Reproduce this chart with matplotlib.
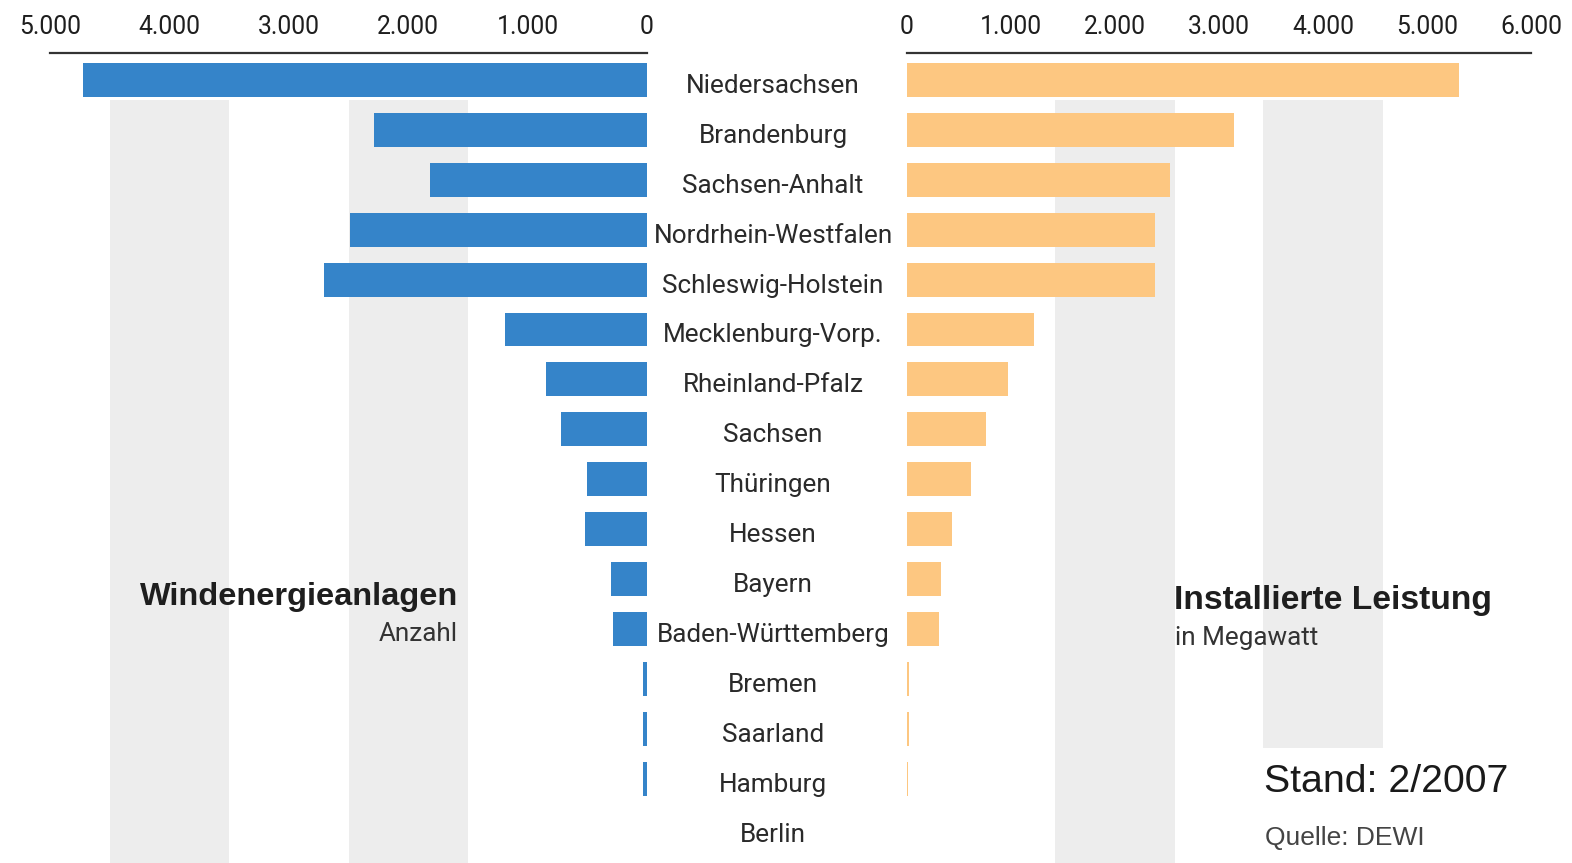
import matplotlib
matplotlib.use('Agg')
import matplotlib.pyplot as plt
from matplotlib import font_manager
from matplotlib.transforms import blended_transform_factory

# Windenergie in Deutschland nach Bundesland (Stand 2/2007, Quelle DEWI)
states = ['Niedersachsen', 'Brandenburg', 'Sachsen-Anhalt', 'Nordrhein-Westfalen',
          'Schleswig-Holstein', 'Mecklenburg-Vorp.', 'Rheinland-Pfalz', 'Sachsen',
          'Thüringen', 'Hessen', 'Bayern', 'Baden-Württemberg', 'Bremen',
          'Saarland', 'Hamburg', 'Berlin']
turbines = [4720, 2290, 1820, 2490, 2705, 1190, 847, 721, 503, 520, 302, 285,
            30, 30, 30, 0]
capacity_mw = [5310, 3140, 2530, 2385, 2385, 1225, 975, 755, 612, 430, 325, 306,
               20, 15, 8, 0]
left_ticks = [5000, 4000, 3000, 2000, 1000, 0]
right_ticks = [0, 1000, 2000, 3000, 4000, 5000, 6000]

BLUE = '#3584c9'
ORANGE = '#fdc781'
BAND = '#ededed'

installed = {f.name for f in font_manager.fontManager.ttflist}
NARROW = 'Liberation Sans Narrow' if 'Liberation Sans Narrow' in installed else 'Roboto'
label_size = 21.5 if NARROW == 'Liberation Sans Narrow' else 18.8


def fmt(v):
    return f'{v:,}'.replace(',', '.')


fig = plt.figure(figsize=(15.72, 8.63), dpi=100)
W, H = 1572, 863

ax_l = fig.add_axes([50 / W, 0, 597 / W, 810 / H])
ax_r = fig.add_axes([907 / W, 0, 624 / W, 810 / H])

rows = list(range(len(states)))
for ax in (ax_l, ax_r):
    ax.set_ylim(15.69, -0.54)
    for side in ('left', 'right', 'bottom'):
        ax.spines[side].set_visible(False)
    ax.spines['top'].set_color('#333333')
    ax.spines['top'].set_linewidth(1.6)
    ax.set_yticks([])
    ax.xaxis.tick_top()
    ax.tick_params(axis='x', length=0, pad=10, labelsize=label_size - 1,
                   colors='#1e1e1e')

# grey background columns behind the 2.000 and 4.000 marks
for c in (2000, 4000):
    ax_l.axvspan(c - 500, c + 500, ymin=0, ymax=0.942, color=BAND, lw=0, zorder=0)
ax_r.axvspan(2000 - 575, 2000 + 575, ymin=0, ymax=0.942, color=BAND, lw=0, zorder=0)
ax_r.axvspan(4000 - 575, 4000 + 575, ymin=0.142, ymax=0.942, color=BAND, lw=0, zorder=0)

ax_l.barh(rows, turbines, height=0.68, color=BLUE, zorder=2)
ax_r.barh(rows, capacity_mw, height=0.68, color=ORANGE, zorder=2)

ax_l.set_xlim(5000, 0)
ax_r.set_xlim(0, 6000)
ax_l.set_xticks(left_ticks)
ax_l.set_xticklabels([fmt(v) for v in left_ticks], family=NARROW)
ax_r.set_xticks(right_ticks)
ax_r.set_xticklabels([fmt(v) for v in right_ticks], family=NARROW)

# state names in the middle column
trans = blended_transform_factory(fig.transFigure, ax_l.transData)
for i, name in enumerate(states):
    fig.text(773 / W, i + 0.12, name, transform=trans, ha='center', va='center',
             family=NARROW, fontsize=label_size, color='#2a2a2a')

fig.text(458 / W, 1 - 597 / H, 'Windenergieanlagen', ha='right', va='center',
         family='Liberation Sans', fontweight='bold', fontsize=23.4, color='#1e1e1e')
fig.text(458 / W, 1 - 634 / H, 'Anzahl', ha='right', va='center',
         family=NARROW, fontsize=label_size, color='#333333')
fig.text(1174 / W, 1 - 600 / H, 'Installierte Leistung', ha='left', va='center',
         family='Liberation Sans', fontweight='bold', fontsize=24.2, color='#1e1e1e')
fig.text(1175 / W, 1 - 638 / H, 'in Megawatt', ha='left', va='center',
         family=NARROW, fontsize=label_size, color='#333333')

fig.text(1264 / W, 1 - 782 / H, 'Stand: 2/2007', ha='left', va='center',
         family='Liberation Sans', fontsize=28.3, color='#1a1a1a')
fig.text(1265 / W, 1 - 838 / H, 'Quelle: DEWI', ha='left', va='center',
         family='Liberation Sans', fontsize=19, color='#444444')

fig.savefig('out.png', dpi=100, facecolor='white')
